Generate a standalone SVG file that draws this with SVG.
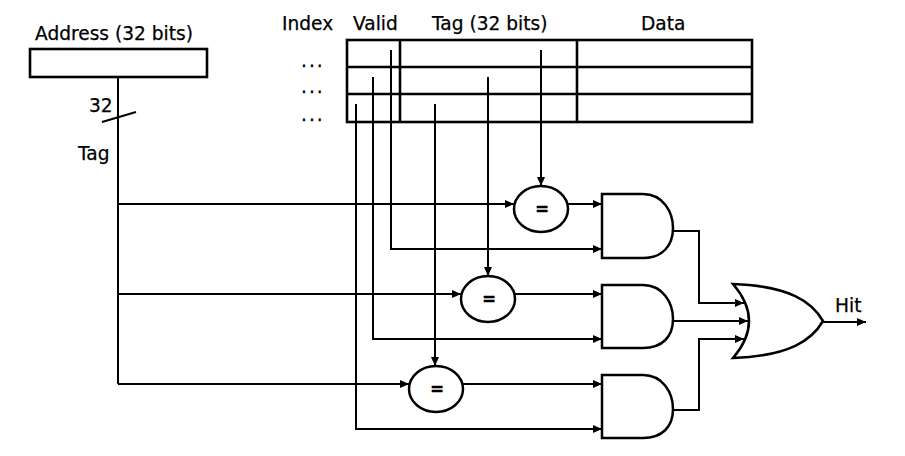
<svg xmlns="http://www.w3.org/2000/svg" width="905" height="456" viewBox="0 0 905 456">
<defs>
<marker id="arr" markerUnits="userSpaceOnUse" markerWidth="10" markerHeight="9" refX="9" refY="4" orient="auto">
<path d="M0,0 L9,4 L0,8 z" fill="#000"/>
</marker>
<style>
text{font-family:"DejaVu Sans","Liberation Sans",sans-serif;font-size:18.6px;fill:#000;stroke:#000;stroke-width:0.25}
.w{fill:none;stroke:#000;stroke-width:2}
.a{marker-end:url(#arr)}
.t{fill:none;stroke:#000;stroke-width:2.6}
.g{fill:#fff;stroke:#000;stroke-width:2.5}
.eq{font-size:17px;font-weight:bold;text-anchor:middle}
.dots{letter-spacing:2px}
</style>
</defs>
<rect width="905" height="456" fill="#fff"/>

<g id="address">
<rect class="t" x="30" y="49" width="177" height="28"/>
<text x="35" y="40">Address (32 bits)</text>
<text x="89" y="112">32</text>
<text x="78" y="160">Tag</text>
</g>

<g id="cache-table">
<rect class="t" x="347" y="40" width="405" height="82"/>
<line class="t" x1="347" y1="67" x2="752" y2="67"/>
<line class="t" x1="347" y1="94" x2="752" y2="94"/>
<line class="t" x1="400" y1="40" x2="400" y2="122"/>
<line class="t" x1="577" y1="40" x2="577" y2="122"/>
<text x="282" y="30">Index</text>
<text x="353" y="30">Valid</text>
<text x="432" y="30">Tag (32 bits)</text>
<text x="641" y="30">Data</text>
<text class="dots" x="301" y="67">...</text>
<text class="dots" x="301" y="93">...</text>
<text class="dots" x="301" y="121">...</text>
</g>

<g id="connectors">
<path class="w" d="M118,77 V384"/>
<path class="w" d="M102,122 L136,112"/>
<path class="w a" d="M118,204 H514"/>
<path class="w a" d="M118,294 H461"/>
<path class="w a" d="M118,384 H409"/>
<path class="w a" d="M541,50 V186"/>
<path class="w a" d="M488,77 V276"/>
<path class="w a" d="M435,104 V366"/>
<path class="w a" d="M391,50 V249 H602"/>
<path class="w a" d="M373,77 V339 H602"/>
<path class="w a" d="M356,104 V429 H602"/>
<path class="w a" d="M568,204 H602"/>
<path class="w a" d="M515,294 H602"/>
<path class="w a" d="M463,384 H602"/>
<path class="w a" d="M673,231 H699 V303 H744"/>
<path class="w a" d="M673,321 H748"/>
<path class="w a" d="M673,410 H699 V339 H744"/>
<path class="w a" d="M823,322 H866"/>
</g>

<g id="cmp1">
<ellipse class="g" cx="541" cy="209" rx="27" ry="23"/>
<text class="eq" x="542" y="215">=</text>
</g>
<g id="cmp2">
<ellipse class="g" cx="488" cy="299" rx="27" ry="23"/>
<text class="eq" x="489" y="305">=</text>
</g>
<g id="cmp3">
<ellipse class="g" cx="436" cy="389" rx="27" ry="23"/>
<text class="eq" x="437" y="395">=</text>
</g>

<g id="and1">
<path class="g" d="M602,194 H643 C663,194 673,212 673,228 C673,246 662,258 643,258 H602 Z"/>
</g>
<g id="and2">
<path class="g" d="M602,285 H643 C663,285 673,303 673,319 C673,337 662,348 643,348 H602 Z"/>
</g>
<g id="and3">
<path class="g" d="M602,375 H643 C663,375 673,393 673,409 C673,427 662,438 643,438 H602 Z"/>
</g>

<g id="or">
<path class="g" d="M733,284 C790,286 812,302 823,321 C812,340 790,356 733,358 Q765,321 733,284 Z"/>
<text x="835" y="312">Hit</text>
</g>
</svg>
